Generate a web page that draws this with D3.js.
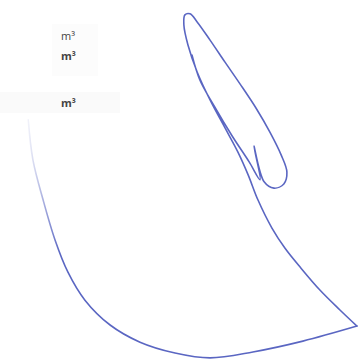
<!DOCTYPE html>
<html><head><meta charset="utf-8">
<script src="https://cdn.jsdelivr.net/npm/d3@7"></script>
<style>html,body{margin:0;padding:0;background:#fff;}svg{display:block;}</style>
</head><body>
<script>
// Expansion branch (left) to bottom-right corner: volume (normalised m³) and pressure
const expVolume = [0.024,0.038,0.068,0.103,0.141,0.191,0.265,0.353,0.456,0.559,0.685,0.832,0.991];
const expPressure = [68.6,57.1,45.7,34.3,25.1,17.1,10.0,5.1,2.0,0.6,2.3,5.4,9.7];
// Compression branch and loop, starting at the bottom-right corner
const loopVolume = [0.991,0.941,0.882,0.826,0.779,0.741,0.700,0.671,0.641,0.603,0.559,0.521,0.494,0.482,0.485,0.500,0.521,
  0.559,0.603,0.647,0.694,0.735,0.768,0.785,0.776,0.747,0.718,0.688,0.706,0.674,0.624,0.571,0.529,0.506];
const loopPressure = [9.7,14.3,20.0,26.3,32.0,37.7,45.7,52.9,59.4,66.3,74.3,82.3,90.0,95.7,98.6,98.9,96.6,
  91.4,85.1,78.9,72.0,65.1,58.6,53.7,50.3,49.1,50.9,61.1,51.5,56.6,64.0,72.6,80.0,87.1];
const labels = ["m³","m³","m³"];
const labelWeights = ["normal","bold","bold"];
const labelPressure = [91.4,85.7,72.3];

const W = 361, H = 359;
const svg = d3.select("body").append("svg").attr("width", W).attr("height", H);
const x = d3.scaleLinear().domain([0,1]).range([20,360]);
const y = d3.scaleLinear().domain([0,100]).range([360,10]);
const col = "#5a66c2";

const defs = svg.append("defs");
const g = defs.append("linearGradient").attr("id","fade")
  .attr("gradientUnits","userSpaceOnUse").attr("x1",26).attr("x2",60).attr("y1",0).attr("y2",0);
g.append("stop").attr("offset","0").attr("stop-color",col).attr("stop-opacity",0.02);
g.append("stop").attr("offset","1").attr("stop-color",col).attr("stop-opacity",1);

svg.append("rect").attr("x",0).attr("y",y(76.6)).attr("width",120).attr("height",21).attr("fill","#fafafa");
svg.append("rect").attr("x",52).attr("y",y(96)).attr("width",46).attr("height",52).attr("fill","#fcfcfc");

const line = d3.line().x(d=>x(d[0])).y(d=>y(d[1])).curve(d3.curveCatmullRom.alpha(0.5));
const expPts = expVolume.map((v,i)=>[v, expPressure[i]]);
const loopPts = loopVolume.map((v,i)=>[v, loopPressure[i]]);
svg.append("path").attr("d", line(expPts)).attr("fill","none")
  .attr("stroke","url(#fade)").attr("stroke-width",1.6).attr("stroke-linecap","round");
svg.append("path").attr("d", line(loopPts)).attr("fill","none")
  .attr("stroke",col).attr("stroke-width",1.6).attr("stroke-linejoin","round").attr("stroke-linecap","round");

svg.selectAll("text.lab").data(labels).join("text").attr("class","lab")
  .attr("x", 61).attr("y", (d,i)=>y(labelPressure[i]))
  .attr("font-family","'Open Sans', sans-serif").attr("font-size",11)
  .attr("font-weight",(d,i)=>labelWeights[i]).attr("fill","#444").text(d=>d);
</script>
</body></html>
